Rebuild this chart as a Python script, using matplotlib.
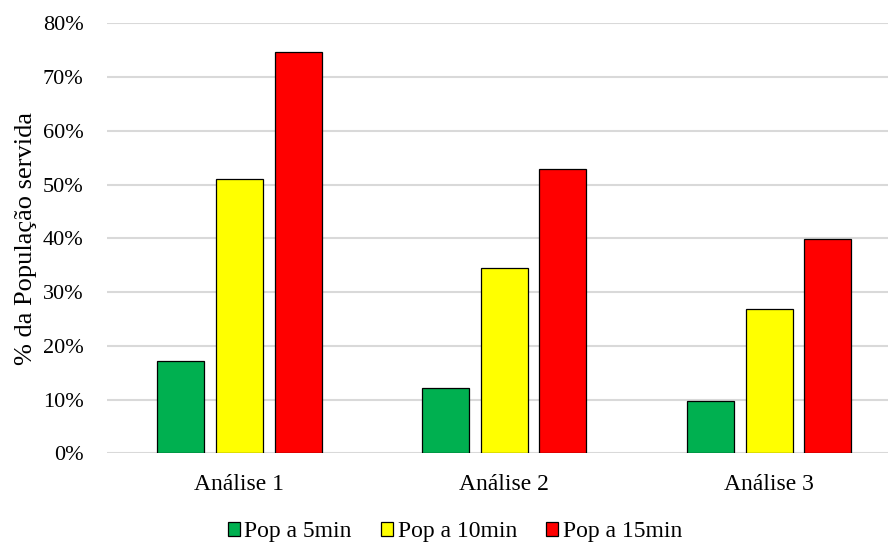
import matplotlib
matplotlib.use("Agg")
import matplotlib.pyplot as plt
import numpy as np
from matplotlib.ticker import FuncFormatter

categories = ["Análise 1", "Análise 2", "Análise 3"]
series = ["Pop a 5min", "Pop a 10min", "Pop a 15min"]
pop_5min = [17.2, 12.2, 9.7]
pop_10min = [51.0, 34.5, 26.9]
pop_15min = [74.6, 52.8, 39.8]
colors = ["#00B050", "#FFFF00", "#FF0000"]

plt.rcParams['font.family'] = ['Liberation Serif', 'DejaVu Serif']

fig = plt.figure(figsize=(8.88, 5.44), dpi=100)
ax = fig.add_axes([107/888, 1-453.3/544, 1-107/888, (453.3-23.3)/544])

x = np.arange(len(categories))
w = 0.177
off = 0.2215
for i, (vals, name) in enumerate(zip([pop_5min, pop_10min, pop_15min], series)):
    ax.bar(x + (i-1)*off, vals, width=w, color=colors[i], edgecolor="black",
           linewidth=0.9, label=name, zorder=3)

ax.set_xlim(-0.5, 2.449)
ax.set_ylim(0, 80)
ax.set_yticks(np.arange(0, 81, 10))
ax.yaxis.set_major_formatter(FuncFormatter(lambda v, p: f"{int(v)}%"))
ax.set_xticks(x)
ax.set_xticklabels(categories)
ax.grid(axis="y", color="#d9d9d9", linewidth=1.5, zorder=0)
ax.set_axisbelow(True)
for s in ax.spines.values():
    s.set_visible(False)
ax.tick_params(axis="both", length=0, colors="black")
ax.tick_params(axis="y", pad=17, labelsize=16)
ax.tick_params(axis="x", pad=15, labelsize=17)
ax.set_ylabel("% da População servida", fontsize=19, labelpad=4)

leg = fig.legend(loc="center", bbox_to_anchor=(455/888, 1-532/544), ncol=3, frameon=False,
                 fontsize=17, handlelength=0.5, handleheight=0.5, handletextpad=0.2,
                 columnspacing=1.25, bbox_transform=fig.transFigure)
fig.savefig("out.png", dpi=100)
